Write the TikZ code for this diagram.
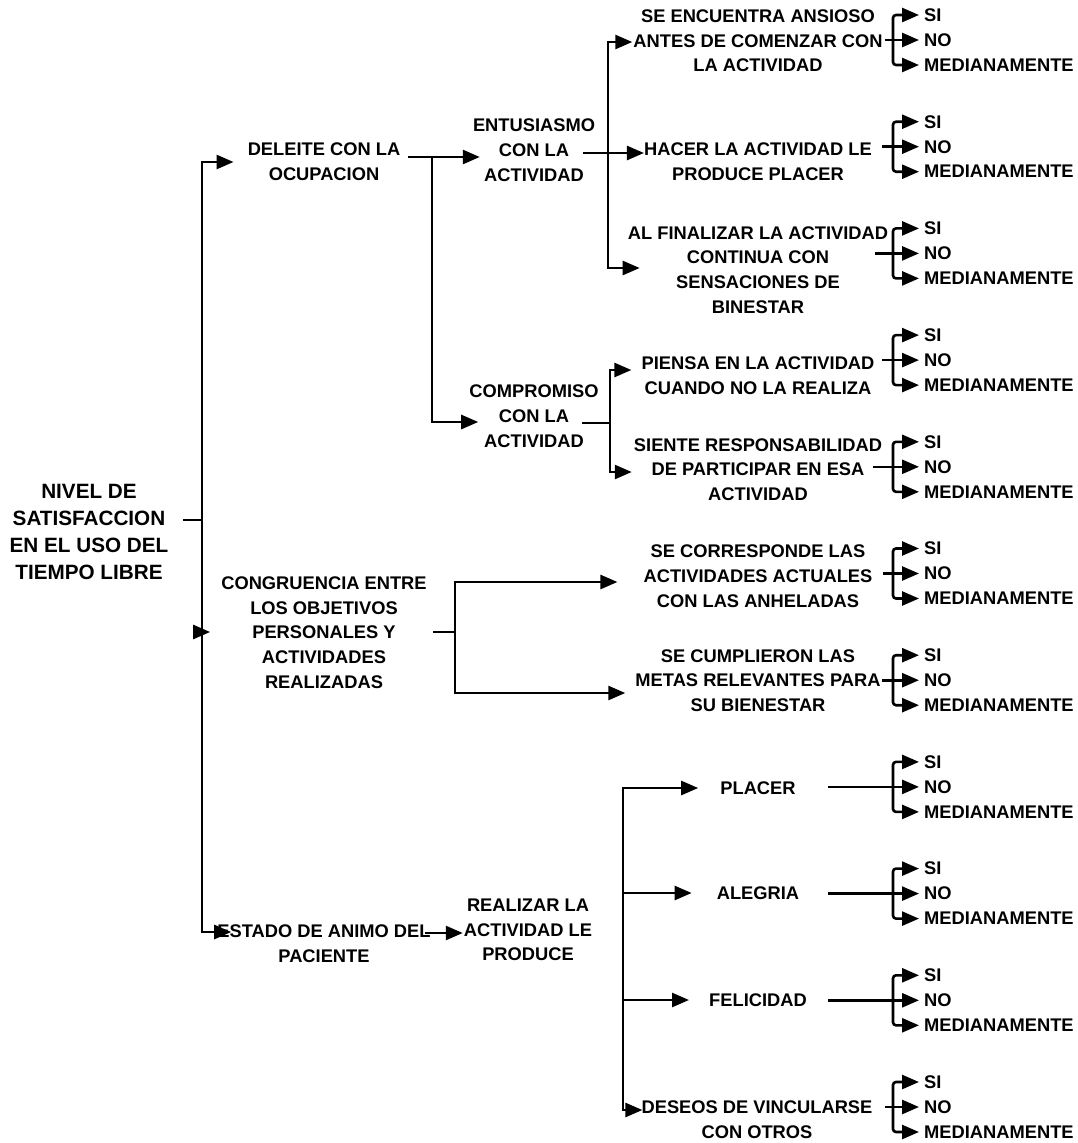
\documentclass[tikz,border=0pt]{standalone}
\usepackage{fontspec}
\setmainfont{Liberation Sans}
\usetikzlibrary{arrows.meta}
\newcommand\optgrp[3]{%
  \node[opt] (#1si) at (924,#2-25) {SI};
  \node[opt] (#1no) at (924,#2) {NO};
  \node[opt] (#1me) at (924,#2+25) {MEDIANAMENTE};
  \coordinate (#1b) at (893,#2);
  \coordinate (#1st) at (#3,#2);
  \draw[arr,rounded corners=3pt] (#1b) -- (#1b |- #1si.west) -- ([xshift=-5pt]#1si.west);
  \draw[arr,rounded corners=3pt] (#1b) -- (#1b |- #1me.west) -- ([xshift=-5pt]#1me.west);
  \draw[arr] (#1st) -- ([xshift=-5pt]#1no.west);
}
\begin{document}
\begin{tikzpicture}[x=1pt,y=-1pt,
  ln/.style={line width=2.6pt},
  arr/.style={ln,-{Triangle[length=17pt,width=14pt]}},
  txt/.style={font=\fontsize{18.3}{24.7}\selectfont\bfseries,align=center,inner sep=0pt},
  roottxt/.style={font=\fontsize{20.7}{26.7}\selectfont\bfseries,align=center,inner sep=0pt},
  opt/.style={font=\fontsize{18.3}{24.7}\selectfont\bfseries,anchor=west,inner sep=0pt}]
\useasboundingbox[fill=white] (0,0) rectangle (1078,1143);

% ---- text nodes ----
\node[roottxt] (root) at (89,532) {NIVEL DE\\SATISFACCION\\EN EL USO DEL\\TIEMPO LIBRE};
\node[txt] (deleite) at (324,161.5) {DELEITE CON LA\\OCUPACION};
\node[txt] (congru) at (324,632.5) {CONGRUENCIA ENTRE\\LOS OBJETIVOS\\PERSONALES Y\\ACTIVIDADES\\REALIZADAS};
\node[txt] (estado) at (324,943.5) {ESTADO DE ANIMO DEL\\PACIENTE};
\node[txt] (entus) at (534,150) {ENTUSIASMO\\CON LA\\ACTIVIDAD};
\node[txt] (compr) at (534,416) {COMPROMISO\\CON LA\\ACTIVIDAD};
\node[txt] (realiz) at (528,930) {REALIZAR LA\\ACTIVIDAD LE\\PRODUCE};
\node[txt] (ansioso) at (758,41) {SE ENCUENTRA ANSIOSO\\ANTES DE COMENZAR CON\\LA ACTIVIDAD};
\node[txt] (hacer) at (758,162) {HACER LA ACTIVIDAD LE\\PRODUCE PLACER};
\node[txt] (final) at (758,270) {AL FINALIZAR LA ACTIVIDAD\\CONTINUA CON\\SENSACIONES DE\\BINESTAR};
\node[txt] (piensa) at (758,375.5) {PIENSA EN LA ACTIVIDAD\\CUANDO NO LA REALIZA};
\node[txt] (siente) at (758,469.5) {SIENTE RESPONSABILIDAD\\DE PARTICIPAR EN ESA\\ACTIVIDAD};
\node[txt] (corresp) at (758,576) {SE CORRESPONDE LAS\\ACTIVIDADES ACTUALES\\CON LAS ANHELADAS};
\node[txt] (cumpl) at (758,680.5) {SE CUMPLIERON LAS\\METAS RELEVANTES PARA\\SU BIENESTAR};
\node[txt] (placer) at (758,788) {PLACER};
\node[txt] (alegria) at (758,893) {ALEGRIA};
\node[txt] (felic) at (758,1000) {FELICIDAD};
\node[txt] (deseos) at (757,1120) {DESEOS DE VINCULARSE\\CON OTROS};

% ---- junction coordinates ----
\coordinate (rs) at (183,520);
\coordinate (rb1) at (202,162);
\coordinate (rb2) at (202,932);
\coordinate (rbc) at (202,632);
\coordinate (ds) at (408,157);
\coordinate (db1) at (432,157);
\coordinate (db2) at (432,422);
\coordinate (es) at (583,153);
\coordinate (eb1) at (608,42);
\coordinate (eb2) at (608,268);
\coordinate (cs) at (582,423);
\coordinate (cb) at (610,423);
\coordinate (cb1) at (610,370);
\coordinate (cb2) at (610,472);
\coordinate (gs) at (433,632);
\coordinate (gb) at (455,632);
\coordinate (gb1) at (455,582);
\coordinate (gb2) at (455,693);
\coordinate (ss) at (425,933);
\coordinate (pb1) at (623,788);
\coordinate (pb2) at (623,1110);

% ---- connectors ----
\draw[ln] (rs) -- (rs -| rb1);
\draw[arr] (rb2) -- (rb1) -- ([xshift=-14pt]deleite.west |- rb1);
\draw[arr] (rb1) -- (rb2) -- ([xshift=14pt]estado.west |- rb2);
\draw[arr] (rbc) -- ([xshift=-11pt]congru.west |- rbc);

\draw[arr] (ds) -- ([xshift=7pt]entus.west |- ds);
\draw[arr] (db1) -- (db2) -- ([xshift=9pt]compr.west |- db2);

\draw[arr] (es) -- (hacer.west |- es);
\draw[arr] (eb2) -- (eb1) -- ([xshift=-1pt]ansioso.west |- eb1);
\draw[arr] (eb1) -- (eb2) -- ([xshift=12pt]final.west |- eb2);

\draw[ln] (cs) -- (cb);
\draw[arr] (cb2) -- (cb1) -- ([xshift=-10pt]piensa.west |- cb1);
\draw[arr] (cb1) -- (cb2) -- ([xshift=-2pt]siente.west |- cb2);

\draw[ln] (gs) -- (gb);
\draw[arr] (gb2) -- (gb1) -- ([xshift=-26pt]corresp.west |- gb1);
\draw[arr] (gb1) -- (gb2) -- ([xshift=-10pt]cumpl.west |- gb2);

\draw[arr] (ss) -- ([xshift=-1pt]realiz.west |- ss);

\draw[arr] (pb2) -- (pb1) -- ([xshift=-22pt]placer.west |- pb1);
\draw[arr] (pb1 |- alegria.west) -- ([xshift=-25pt]alegria.west);
\draw[arr] (pb1 |- felic.west) -- ([xshift=-20pt]felic.west);
\draw[arr] (pb1) -- (pb2) -- ([xshift=1pt]deseos.west |- pb2);

% ---- option groups ----
\optgrp{ga}{40}{885}
\optgrp{gb}{146.7}{882}
\optgrp{gc}{253.4}{875}
\optgrp{gd}{360.1}{882}
\optgrp{ge}{466.8}{873}
\optgrp{gf}{573.5}{883}
\optgrp{gg}{680.2}{882}
\optgrp{gh}{786.9}{828}
\optgrp{gi}{893.6}{828}
\optgrp{gj}{1000.3}{828}
\optgrp{gk}{1107}{885}
\end{tikzpicture}
\end{document}
